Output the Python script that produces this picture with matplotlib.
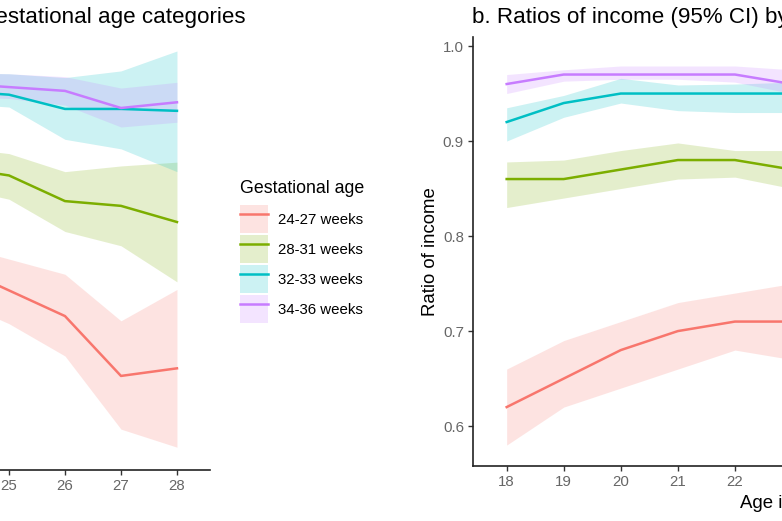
import numpy as np
import matplotlib.pyplot as plt
from matplotlib.patches import Patch
from matplotlib.lines import Line2D
from matplotlib.legend_handler import HandlerTuple

plt.rcParams['font.family'] = ['Liberation Sans', 'DejaVu Sans']

groups = ["24-27 weeks", "28-31 weeks", "32-33 weeks", "34-36 weeks"]
colors = ["#F8766D", "#7CAE00", "#00BFC4", "#C77CFF"]

# panel a (only the right end of it is in the picture)
age_a = [24, 25, 26, 27, 28]
ratio_a = [
    [0.774, 0.747, 0.720, 0.657, 0.665],
    [0.877, 0.868, 0.841, 0.836, 0.819],
    [0.957, 0.953, 0.938, 0.938, 0.936],
    [0.965, 0.961, 0.957, 0.939, 0.945],
]
lower_a = [
    [0.738, 0.712, 0.678, 0.601, 0.582],
    [0.856, 0.843, 0.809, 0.794, 0.756],
    [0.944, 0.940, 0.906, 0.896, 0.872],
    [0.951, 0.949, 0.942, 0.919, 0.924],
]
upper_a = [
    [0.796, 0.780, 0.764, 0.715, 0.748],
    [0.898, 0.891, 0.872, 0.878, 0.882],
    [0.976, 0.975, 0.971, 0.978, 0.999],
    [0.976, 0.975, 0.972, 0.960, 0.966],
]

# panel b (only the left part is in the picture)
age_b = [18, 19, 20, 21, 22, 23]
ratio_b = [
    [0.62, 0.65, 0.68, 0.70, 0.71, 0.71],
    [0.86, 0.86, 0.87, 0.88, 0.88, 0.87],
    [0.92, 0.94, 0.95, 0.95, 0.95, 0.95],
    [0.96, 0.97, 0.97, 0.97, 0.97, 0.96],
]
lower_b = [
    [0.58, 0.62, 0.64, 0.66, 0.68, 0.67],
    [0.83, 0.84, 0.85, 0.86, 0.862, 0.85],
    [0.90, 0.925, 0.94, 0.932, 0.93, 0.93],
    [0.95, 0.963, 0.965, 0.965, 0.962, 0.95],
]
upper_b = [
    [0.66, 0.69, 0.71, 0.73, 0.74, 0.75],
    [0.878, 0.88, 0.89, 0.898, 0.89, 0.89],
    [0.935, 0.948, 0.966, 0.959, 0.96, 0.962],
    [0.97, 0.975, 0.979, 0.979, 0.979, 0.975],
]

W, H = 782, 521
fig = plt.figure(figsize=(W / 100, H / 100), dpi=100)
# both panels run past the picture edges
ax_a = fig.add_axes([-416 / W, 1 - 470 / H, 626 / W, 429 / H])
ax_b = fig.add_axes([473 / W, 1 - 466 / H, 638 / W, 429 / H])

tick_grey = "#666666"
for ax, ages, ratio, lo, hi in [(ax_a, age_a, ratio_a, lower_a, upper_a),
                                (ax_b, age_b, ratio_b, lower_b, upper_b)]:
    for i in range(len(groups)):
        ax.fill_between(ages, lo[i], hi[i], color=colors[i], alpha=0.2, lw=0)
    for i in range(len(groups)):
        ax.plot(ages, ratio[i], color=colors[i], lw=1.8)
    ax.set_xlim(17.41, 28.59)
    ax.set_ylim(0.558, 1.0095)
    ax.set_xticks(range(18, 29))
    ax.set_yticks([0.6, 0.7, 0.8, 0.9, 1.0])
    ax.set_yticklabels(["0.6", "0.7", "0.8", "0.9", "1.0"])
    for s in ["top", "right"]:
        ax.spines[s].set_visible(False)
    for s in ["left", "bottom"]:
        ax.spines[s].set_linewidth(1.2)
        ax.spines[s].set_color("#222222")
    ax.tick_params(length=3.5, width=1.0, color="#333333", labelcolor=tick_grey,
                   labelsize=10.8, pad=3)

ax_b.set_ylabel("Ratio of income", fontsize=13.4, labelpad=3)
ax_b.set_xlabel("Age in years", fontsize=13.4, labelpad=4)

fig.text(245 / W, 1 - 23 / H, "a. Ratios of income (95% CI) by age and gestational age categories",
         ha="right", va="baseline", fontsize=16.1)
fig.text(472 / W, 1 - 23 / H, "b. Ratios of income (95% CI) by age and gestational age categories",
         ha="left", va="baseline", fontsize=16.1)

handles = [(Patch(facecolor=c, alpha=0.2, lw=0), Line2D([], [], color=c, lw=1.8)) for c in colors]
leg = fig.legend(handles, groups, loc="upper left", bbox_to_anchor=(240 / W, 1 - 180 / H),
                 handler_map={tuple: HandlerTuple(ndivide=1, pad=0)}, frameon=False,
                 title="Gestational age", title_fontsize=12.8, fontsize=10.8,
                 handlelength=1.87, handleheight=2.5, labelspacing=0.13, handletextpad=0.67,
                 borderpad=0, borderaxespad=0, alignment="left")
leg._legend_box.sep = 5.8  # a bit more room under the legend title

plt.savefig("out.png", dpi=100)
